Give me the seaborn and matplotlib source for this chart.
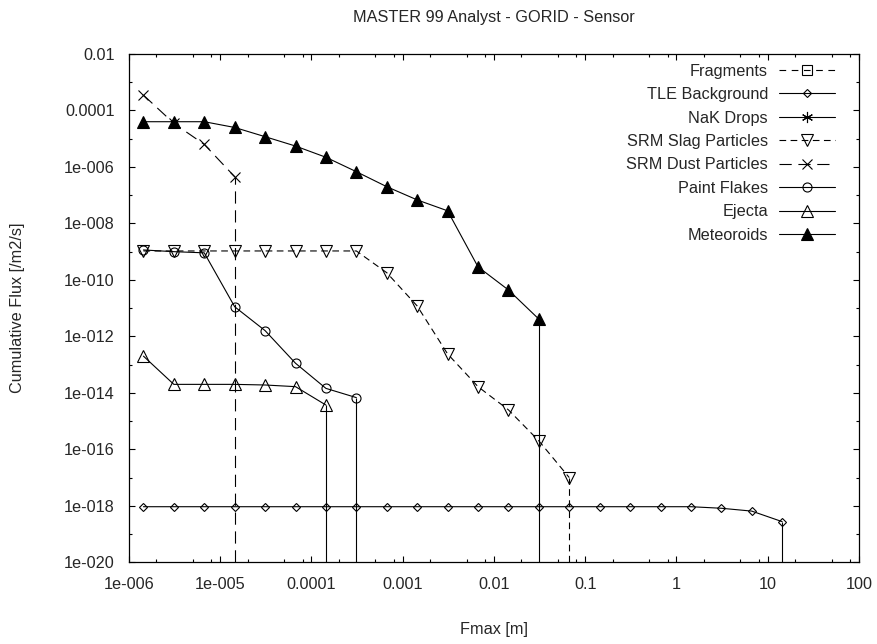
import matplotlib
matplotlib.use("Agg")
import matplotlib.pyplot as plt
import matplotlib.ticker as mticker
import pandas as pd
import seaborn as sns

# ---------------- data ----------------
fmax = [1.44e-6, 3.10e-6, 6.68e-6, 1.44e-5, 3.10e-5, 6.68e-5, 1.44e-4, 3.10e-4,
        6.68e-4, 1.44e-3, 3.10e-3, 6.68e-3, 1.44e-2, 3.10e-2, 6.68e-2, 1.44e-1,
        3.10e-1, 6.68e-1, 1.44, 3.10, 6.68, 14.4]

fragments = []
tle_background = [9.3e-19, 9.3e-19, 9.3e-19, 9.3e-19, 9.3e-19, 9.3e-19, 9.3e-19,
                  9.3e-19, 9.3e-19, 9.3e-19, 9.3e-19, 9.3e-19, 9.3e-19, 9.3e-19,
                  9.3e-19, 9.3e-19, 9.3e-19, 9.3e-19, 9.3e-19, 8.2e-19, 6.5e-19,
                  2.75e-19]
nak_drops = []
srm_slag = [1.06e-9, 1.06e-9, 1.06e-9, 1.06e-9, 1.06e-9, 1.06e-9, 1.06e-9, 1.06e-9,
            1.8e-10, 1.19e-11, 2.4e-13, 1.66e-14, 2.5e-15, 2.0e-16, 1.0e-17]
srm_dust = [3.5e-4, 3.5e-5, 6.3e-6, 4.5e-7]
paint_flakes = [1.15e-9, 1.0e-9, 9.1e-10, 1.12e-11, 1.6e-12, 1.12e-13, 1.44e-14, 6.8e-15]
ejecta = [2.0e-13, 2.0e-14, 2.0e-14, 2.0e-14, 1.9e-14, 1.66e-14, 3.7e-15]
meteoroids = [4.0e-5, 4.0e-5, 4.0e-5, 2.5e-5, 1.18e-5, 5.5e-6, 2.2e-6, 6.8e-7,
              2.0e-7, 6.8e-8, 2.8e-8, 2.9e-10, 4.4e-11, 4.1e-12]

xtick_vals = [1e-6, 1e-5, 1e-4, 1e-3, 1e-2, 1e-1, 1, 10, 100]
xtick_labels = ["1e-006", "1e-005", "0.0001", "0.001", "0.01", "0.1", "1", "10", "100"]
ytick_vals = [1e-2, 1e-4, 1e-6, 1e-8, 1e-10, 1e-12, 1e-14, 1e-16, 1e-18, 1e-20]
ytick_labels = ["0.01", "0.0001", "1e-006", "1e-008", "1e-010", "1e-012",
                "1e-014", "1e-016", "1e-018", "1e-020"]
ytick_minor = [1e-3, 1e-5, 1e-7, 1e-9, 1e-11, 1e-13, 1e-15, 1e-17, 1e-19]

title = "MASTER 99 Analyst - GORID - Sensor"
xlabel = "Fmax [m]"
ylabel = "Cumulative Flux [/m2/s]"

# ---------------- styling ----------------
sns.set_style("ticks")
plt.rcParams['font.family'] = ['Liberation Sans', 'DejaVu Sans']
FS = 11.7

XMIN, XMAX = 1e-6, 100
YMIN, YMAX = 1e-20, 1e-2

LW = 0.8
dash_slag = (0, (6, 4))
dash_dust = (0, (11, 6))
dash_frag = (0, (6, 5))

series = [
    ("Fragments", fragments, dict(marker='s', ms=7, mfc='none', ls=dash_frag)),
    ("TLE Background", tle_background, dict(marker='D', ms=4.0, mfc='none', ls='-')),
    ("NaK Drops", nak_drops, dict(marker=(6, 2, 0), ms=8, mfc='none', ls='-')),
    ("SRM Slag Particles", srm_slag, dict(marker='v', ms=8.2, mfc='none', ls=dash_slag)),
    ("SRM Dust Particles", srm_dust, dict(marker='x', ms=7.2, mfc='none', ls=dash_dust)),
    ("Paint Flakes", paint_flakes, dict(marker='o', ms=6.5, mfc='none', ls='-')),
    ("Ejecta", ejecta, dict(marker='^', ms=9.0, mfc='none', ls='-')),
    ("Meteoroids", meteoroids, dict(marker='^', ms=9.2, mfc='black', ls='-')),
]

fig = plt.figure(figsize=(8.77, 6.44), dpi=100)
ax = fig.add_axes([129 / 877, 1 - 562.3 / 644, 730 / 877, 508.3 / 644])

for name, vals, st in series:
    common = dict(color='black', linewidth=LW, marker=st['marker'],
                  markersize=st['ms'], markerfacecolor=st['mfc'],
                  markeredgecolor='black', markeredgewidth=0.8,
                  linestyle=st['ls'])
    if len(vals) == 0:
        ax.plot([], [], label=name, **common)
        continue
    df = pd.DataFrame({"fmax": fmax[:len(vals)], "flux": vals})
    sns.lineplot(data=df, x="fmax", y="flux", ax=ax, estimator=None, sort=False,
                 label=name, **common)
    # drop line from the last bin down to the axis floor
    ax.vlines(df["fmax"].iloc[-1], YMIN, df["flux"].iloc[-1], colors='black',
              linewidth=LW, linestyles=[st['ls']], label='_nolegend_')

ax.set_xscale('log')
ax.set_yscale('log')
ax.set_xlim(XMIN, XMAX)
ax.set_ylim(YMIN, YMAX)

ax.xaxis.set_major_locator(mticker.FixedLocator(xtick_vals))
ax.xaxis.set_major_formatter(mticker.FixedFormatter(xtick_labels))
ax.xaxis.set_minor_locator(mticker.LogLocator(base=10, subs=[2, 5, 8], numticks=20))
ax.xaxis.set_minor_formatter(mticker.NullFormatter())
ax.yaxis.set_major_locator(mticker.FixedLocator(ytick_vals))
ax.yaxis.set_major_formatter(mticker.FixedFormatter(ytick_labels))
ax.yaxis.set_minor_locator(mticker.FixedLocator(ytick_minor))
ax.yaxis.set_minor_formatter(mticker.NullFormatter())

ax.tick_params(which='both', direction='in', top=True, right=True,
               color='black', width=0.8)
ax.tick_params(which='major', length=4.3, labelsize=FS, pad=10.5)
ax.tick_params(which='minor', length=2.0)
for sp in ax.spines.values():
    sp.set_visible(True)
    sp.set_color('black')
    sp.set_linewidth(0.9)

ax.set_title(title, fontsize=FS, pad=23)
ax.set_xlabel(xlabel, fontsize=FS, labelpad=22)
ax.set_ylabel(ylabel, fontsize=FS)
ax.yaxis.set_label_coords(-0.143, 0.5)

handles, labels = ax.get_legend_handles_labels()
leg = ax.legend(handles, labels, loc='upper right', bbox_to_anchor=(0.967, 0.981),
                frameon=False, markerfirst=False, fontsize=FS, handlelength=3.45,
                handletextpad=0.66, labelspacing=0.52, borderpad=0,
                borderaxespad=0, numpoints=1)

fig.savefig("out.png", dpi=100)
